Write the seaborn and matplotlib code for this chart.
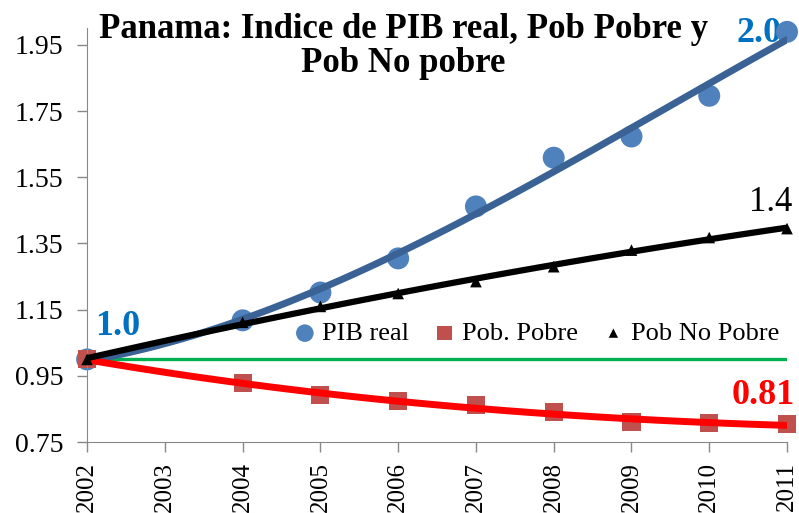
import numpy as np
import pandas as pd
import matplotlib
matplotlib.use("Agg")
import matplotlib.pyplot as plt
import seaborn as sns

years = [2002, 2004, 2005, 2006, 2007, 2008, 2009, 2010, 2011]
all_years = [2002, 2003, 2004, 2005, 2006, 2007, 2008, 2009, 2010, 2011]
pib_real = [1.00, 1.118, 1.202, 1.305, 1.462, 1.609, 1.673, 1.796, 1.989]
pob_pobre = [1.00, 0.928, 0.892, 0.874, 0.861, 0.840, 0.811, 0.807, 0.804]
pob_no_pobre = [1.00, 1.112, 1.160, 1.199, 1.235, 1.280, 1.330, 1.368, 1.395]
base_value = 1.0
y_ticks = [0.75, 0.95, 1.15, 1.35, 1.55, 1.75, 1.95]

df = pd.DataFrame({"year": years, "pib": pib_real,
                   "pobre": pob_pobre, "nopobre": pob_no_pobre})

sns.set_style("ticks")
plt.rcParams['font.family'] = ['Liberation Serif', 'DejaVu Serif']
plt.rcParams['text.color'] = 'black'

fig = plt.figure(figsize=(7.99, 5.13), dpi=100)
ax = fig.add_axes([0.109, 0.138, 0.876, 0.807])

ax.axhline(base_value, color='#00B050', lw=2.4, zorder=1)

# markers
sns.scatterplot(data=df, x="year", y="pib", marker='o', s=250, color='#4F81BD',
                edgecolor='none', label='PIB real', ax=ax, zorder=2, clip_on=False)
sns.scatterplot(data=df, x="year", y="pobre", marker='s', s=170, color='#C0504D',
                edgecolor='none', label='Pob. Pobre', ax=ax, zorder=2, clip_on=False)
sns.scatterplot(data=df, x="year", y="nopobre", marker='^', s=70, color='black',
                edgecolor='none', label='Pob No Pobre', ax=ax, zorder=4, clip_on=False)

# polynomial trend lines
sns.regplot(data=df, x="year", y="pib", order=3, ci=None, scatter=False, ax=ax,
            line_kws=dict(color='#3A6295', lw=5, zorder=3))
sns.regplot(data=df, x="year", y="pobre", order=3, ci=None, scatter=False, ax=ax,
            line_kws=dict(color='#FF0000', lw=5, zorder=3))
sns.regplot(data=df, x="year", y="nopobre", order=2, ci=None, scatter=False, ax=ax,
            line_kws=dict(color='black', lw=4.5, zorder=3))

ax.set_xlim(2002, 2011)
ax.set_ylim(0.75, 2.0)
ax.set_xticks(all_years)
ax.set_xticklabels([str(y) for y in all_years], rotation=90, fontsize=18)
ax.set_yticks(y_ticks)
ax.set_yticklabels([f"{v:.2f}" for v in y_ticks], fontsize=20)
ax.set_xlabel("")
ax.set_ylabel("")
for s in ['left', 'bottom']:
    ax.spines[s].set_color('#888888')
sns.despine(ax=ax)
ax.tick_params(labelcolor='black', color='#888888', length=7, width=1)
ax.tick_params(axis='x', pad=7)
ax.tick_params(axis='y', pad=10)

ax.legend(loc='center left', bbox_to_anchor=(0.296, 0.263), ncol=3, frameon=False,
          fontsize=19, handlelength=0.8, handletextpad=0.25, columnspacing=0.95,
          borderaxespad=0, borderpad=0, markerscale=0.8)

# annotations
ax.text(2002.1, 1.1, "1.0", color='#0070C0', fontsize=26, fontweight='bold',
        ha='left', va='center')
ax.text(2010.93, 1.985, "2.0", color='#0070C0', fontsize=26, fontweight='bold',
        ha='right', va='center', zorder=1)
ax.text(2011.07, 1.475, "1.4", color='black', fontsize=25, ha='right', va='center')
ax.text(2011.1, 0.89, "0.81", color='#FF0000', fontsize=26, fontweight='bold',
        ha='right', va='center')

fig.text(0.505, 0.975, "Panama: Indice de PIB real, Pob Pobre y\nPob No pobre",
         ha='center', va='top', fontsize=25, fontweight='bold', linespacing=1.05)

fig.savefig("out.png", dpi=100)
